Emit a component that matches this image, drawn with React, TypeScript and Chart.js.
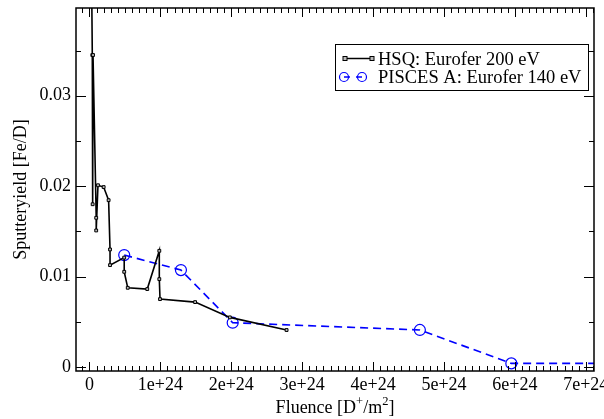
import React, { useEffect, useRef } from "react";
import { Chart, registerables } from "chart.js";

Chart.register(...registerables);

// ---- data (fluence in D+/m^2, yield in Fe/D) ----
const hsqFluence = [
  0.01e24, 0.04e24, 0.045e24, 0.05e24, 0.095e24, 0.095e24, 0.12e24, 0.2e24,
  0.27e24, 0.29e24, 0.29e24, 0.49e24, 0.49e24, 0.54e24, 0.815e24, 0.985e24,
  0.985e24, 0.995e24, 1.49e24, 1.98e24, 2.78e24,
];
const hsqYield = [
  0.06, 0.0345, 0.018, 0.0345, 0.0165, 0.0151, 0.0201, 0.0199, 0.01845, 0.013,
  0.01127, 0.0121, 0.01053, 0.00876, 0.00862, 0.01285, 0.00972, 0.00751,
  0.00718, 0.00549, 0.00409,
];
const piscesFluence = [0.49e24, 1.29e24, 2.02e24, 4.66e24, 5.95e24, 7.4e24];
const piscesYield = [0.01238, 0.01072, 0.0049, 0.0041, 0.0004, 0.0004];

const xTicks = [0, 1e24, 2e24, 3e24, 4e24, 5e24, 6e24, 7e24];
const xTickLabels = ["0", "1e+24", "2e+24", "3e+24", "4e+24", "5e+24", "6e+24", "7e+24"];
const yTicks = [0, 0.01, 0.02, 0.03];
const yTickLabels = ["0", "0.01", "0.02", "0.03"];

const seriesNames = ["HSQ: Eurofer 200 eV", "PISCES A: Eurofer 140 eV"];
const yTitle = "Sputteryield [Fe/D]";

const FONT = "'Liberation Serif', 'Times New Roman', serif";
const BLUE = "#0000ff";

const framePlugin = {
  id: "frame",
  afterDraw(chart: any) {
    const { ctx, chartArea } = chart;
    const { left, right, top, bottom } = chartArea;
    const xs = chart.scales.x;
    const ys = chart.scales.y;
    ctx.save();
    ctx.strokeStyle = "#000";
    // ticks
    ctx.lineWidth = 1;
    ctx.beginPath();
    for (let i = -1; i <= 71; i++) {
      const v = i * 0.1e24;
      const px = Math.round(xs.getPixelForValue(v)) + 0.5;
      if (px < left || px > right) continue;
      const len = i % 10 === 0 ? 9 : 5;
      ctx.moveTo(px, bottom);
      ctx.lineTo(px, bottom - len);
      ctx.moveTo(px, top);
      ctx.lineTo(px, top + len);
    }
    for (let i = 0; i <= 7; i++) {
      const v = i * 0.005;
      const py = Math.round(ys.getPixelForValue(v)) + 0.5;
      if (py < top || py > bottom) continue;
      const len = i % 2 === 0 ? 10 : 5;
      ctx.moveTo(left, py);
      ctx.lineTo(left + len, py);
      ctx.moveTo(right, py);
      ctx.lineTo(right - len, py);
    }
    ctx.stroke();
    // frame
    ctx.lineWidth = 1.5;
    ctx.strokeRect(left, top, right - left, bottom - top);

    // legend
    const bx = 335.5, by = 44.5, bw = 253, bh = 46;
    ctx.lineWidth = 1;
    ctx.fillStyle = "#fff";
    ctx.fillRect(bx, by, bw, bh);
    ctx.strokeRect(bx, by, bw, bh);
    ctx.font = `18.5px ${FONT}`;
    ctx.fillStyle = "#000";
    ctx.textBaseline = "alphabetic";
    ctx.textAlign = "left";
    // entry 1
    const y1 = 58.5;
    ctx.strokeStyle = "#000";
    ctx.lineWidth = 1.5;
    ctx.setLineDash([]);
    ctx.beginPath();
    ctx.moveTo(345, y1);
    ctx.lineTo(372, y1);
    ctx.stroke();
    ctx.lineWidth = 1;
    ctx.fillStyle = "#bbb";
    [345, 372].forEach((x) => {
      ctx.fillRect(x - 2, y1 - 2, 4, 4);
      ctx.strokeRect(x - 2, y1 - 2, 4, 4);
    });
    ctx.fillStyle = "#000";
    ctx.fillText(seriesNames[0], 378, 64.5);
    // entry 2
    const y2 = 77;
    ctx.strokeStyle = BLUE;
    ctx.lineWidth = 1.5;
    ctx.setLineDash([6, 6]);
    ctx.beginPath();
    ctx.moveTo(344, y2);
    ctx.lineTo(362, y2);
    ctx.stroke();
    ctx.setLineDash([]);
    ctx.lineWidth = 1.2;
    [344, 362].forEach((x) => {
      ctx.beginPath();
      ctx.arc(x, y2, 4.5, 0, Math.PI * 2);
      ctx.stroke();
    });
    ctx.fillStyle = "#000";
    ctx.fillText(seriesNames[1], 378, 83);

    // axis titles
    ctx.font = `18px ${FONT}`;
    ctx.textBaseline = "alphabetic";
    // y title
    ctx.save();
    ctx.translate(26, (top + bottom) / 2);
    ctx.rotate(-Math.PI / 2);
    ctx.textAlign = "center";
    ctx.fillText(yTitle, 0, 0);
    ctx.restore();
    // x title with superscripts
    const parts: [string, boolean][] = [
      ["Fluence [D", false],
      ["+", true],
      ["/m", false],
      ["2", true],
      ["]", false],
    ];
    const big = `18px ${FONT}`;
    const small = `12.5px ${FONT}`;
    let total = 0;
    parts.forEach(([t, sup]) => {
      ctx.font = sup ? small : big;
      total += ctx.measureText(t).width;
    });
    let cx = (left + right) / 2 - total / 2;
    const base = 413;
    ctx.textAlign = "left";
    parts.forEach(([t, sup]) => {
      ctx.font = sup ? small : big;
      ctx.fillText(t, cx, sup ? base - 8 : base);
      cx += ctx.measureText(t).width;
    });
    ctx.restore();
  },
};

export default function App() {
  const ref = useRef<HTMLCanvasElement | null>(null);
  useEffect(() => {
    if (!ref.current) return;
    const chart = new Chart(ref.current, {
      type: "line",
      data: {
        datasets: [
          {
            label: seriesNames[0],
            data: hsqFluence.map((x, i) => ({ x, y: hsqYield[i] })),
            borderColor: "#000",
            borderWidth: 1.6,
            pointStyle: "rect",
            pointRadius: 2,
            pointBorderWidth: 1,
            pointBorderColor: "#000",
            pointBackgroundColor: "#bbb",
            tension: 0,
            fill: false,
          },
          {
            label: seriesNames[1],
            data: piscesFluence.map((x, i) => ({ x, y: piscesYield[i] })),
            borderColor: BLUE,
            borderWidth: 1.6,
            borderDash: [8, 5],
            pointStyle: "circle",
            pointRadius: 5.5,
            pointBorderWidth: 1.2,
            pointBorderColor: BLUE,
            pointBackgroundColor: "rgba(0,0,0,0)",
            tension: 0,
            fill: false,
          },
        ],
      },
      options: {
        animation: false,
        responsive: false,
        layout: { padding: { top: 8, right: 10, left: 0, bottom: 0 } },
        plugins: {
          legend: { display: false },
          tooltip: { enabled: false },
        },
        scales: {
          x: {
            type: "linear",
            min: -0.19e24,
            max: 7.116e24,
            grid: { display: false, drawTicks: false },
            border: { display: false },
            afterBuildTicks: (s: any) => {
              s.ticks = xTicks.map((v) => ({ value: v }));
            },
            afterFit: (s: any) => {
              s.height = 48;
              s.paddingLeft = 0;
              s.paddingRight = 0;
            },
            ticks: {
              autoSkip: false,
              maxRotation: 0,
              minRotation: 0,
              padding: 3,
              color: "#000",
              font: { family: FONT, size: 18 },
              callback: (_v: any, i: number) => xTickLabels[i],
            },
          },
          y: {
            type: "linear",
            min: -0.00044,
            max: 0.0397,
            grid: { display: false, drawTicks: false },
            border: { display: false },
            afterBuildTicks: (s: any) => {
              s.ticks = yTicks.map((v) => ({ value: v }));
            },
            afterFit: (s: any) => {
              s.width = 76;
              s.paddingTop = 0;
              s.paddingBottom = 0;
            },
            ticks: {
              autoSkip: false,
              padding: 5,
              color: "#000",
              font: { family: FONT, size: 18 },
              callback: (_v: any, i: number) => yTickLabels[i],
            },
          },
        },
      },
      plugins: [framePlugin],
    });
    return () => chart.destroy();
  }, []);
  return (
    <div style={{ position: "absolute", left: 0, top: 0, width: 604, height: 419, background: "#fff" }}>
      <canvas ref={ref} width={604} height={419} style={{ display: "block" }} />
    </div>
  );
}
